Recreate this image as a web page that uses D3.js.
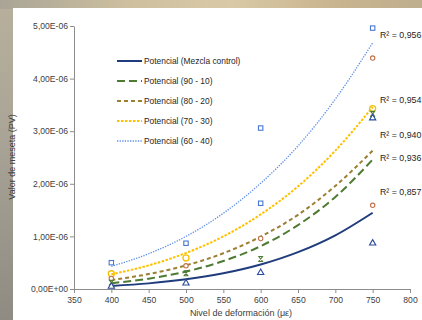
<!DOCTYPE html>
<html><head><meta charset="utf-8">
<script src="https://cdn.jsdelivr.net/npm/d3@7"></script>
<style>html,body{margin:0;padding:0;overflow:hidden;background:#fff}svg{display:block}</style>
</head><body>
<svg id="c" width="422" height="320"></svg>
<script>
// ---- data (values in units of 1E-06) ----
const xTicks = [350,400,450,500,550,600,650,700,750,800];
const yTicks = [0,1,2,3,4,5];
const seriesNames = ["Potencial (Mezcla control)","Potencial (90 - 10)","Potencial (80 - 20)","Potencial (70 - 30)","Potencial (60 - 40)"];
const trendX = [400,450,500,550,600,650,700,750];
const trendControl = [0.058,0.107,0.184,0.298,0.465,0.70,1.02,1.45];
const trend9010   = [0.110,0.197,0.331,0.532,0.815,1.215,1.75,2.46];
const trend8020   = [0.170,0.284,0.449,0.68,0.996,1.41,1.96,2.63];
const trend7030   = [0.280,0.449,0.684,1.00,1.418,1.95,2.63,3.46];
const trend6040   = [0.43,0.67,1.00,1.44,2.01,2.72,3.61,4.68];
const r2Labels = ["R² = 0,956","R² = 0,954","R² = 0,940","R² = 0,936","R² = 0,857"];
const r2Values = [4.83,3.6,2.93,2.50,1.84];
// data markers
const triX = [400,500,600,750,750];   const triY = [0.05,0.11,0.31,0.87,3.25];
const grnX = [400,500,600,750];       const grnY = [0.12,0.30,0.57,3.33];
const brnX = [400,500,600,750,750];   const brnY = [0.20,0.44,0.96,1.59,4.39];
const yelX = [400,500,750];           const yelY = [0.29,0.59,3.43];
const sqX  = [400,500,600,600,750];   const sqY  = [0.50,0.87,1.63,3.06,4.96];

const svg = d3.select("#c");
// background
const defs = svg.append("defs");
const gTop = defs.append("linearGradient").attr("id","gt");
[["0%","#a9a496"],["30%","#cdbf9f"],["55%","#d9c9a6"],["80%","#c8b48e"],["100%","#bfae8e"]].forEach(s=>gTop.append("stop").attr("offset",s[0]).attr("stop-color",s[1]));
const gLeft = defs.append("linearGradient").attr("id","gl").attr("x1",0).attr("y1",0).attr("x2",0).attr("y2",1);
[["0%","#b8b09c"],["40%","#aaa597"],["100%","#8f8b82"]].forEach(s=>gLeft.append("stop").attr("offset",s[0]).attr("stop-color",s[1]));
svg.append("rect").attr("width",422).attr("height",320).attr("fill","url(#gl)");
svg.append("rect").attr("width",422).attr("height",9).attr("fill","url(#gt)");
svg.append("rect").attr("x",13).attr("y",8).attr("width",409).attr("height",312).attr("fill","#fff");

const x = d3.scaleLinear().domain([350,800]).range([74,410]);
const y = d3.scaleLinear().domain([0,5]).range([289,26]);
const fmt = v => v===0 ? "0,00E+00" : v.toFixed(2).replace(".",",")+"E-06";

const font = "Liberation Sans, Arial, sans-serif";
const ya = svg.append("g").attr("transform","translate(74,0)")
  .call(d3.axisLeft(y).tickValues(yTicks).tickFormat(fmt).tickSize(4).tickSizeOuter(0));
const xa = svg.append("g").attr("transform","translate(0,289)")
  .call(d3.axisBottom(x).tickValues(xTicks).tickFormat(d3.format("d")).tickSize(4).tickSizeOuter(0));
[ya,xa].forEach(a=>{
  a.select(".domain").attr("stroke","#8c8c8c");
  a.selectAll(".tick line").attr("stroke","#8c8c8c");
  a.selectAll(".tick text").attr("fill","#404040").style("font-family",font).style("font-size","8.6px");
});
ya.selectAll(".tick text").attr("x",-6);
xa.selectAll(".tick text").attr("y",8);

svg.append("text").attr("transform","translate(15,157) rotate(-90)").attr("text-anchor","middle")
  .style("font-family",font).style("font-size","9px").attr("fill","#404040").text("Valor de meseta (PV)");
svg.append("text").attr("x",241).attr("y",316).attr("text-anchor","middle")
  .style("font-family",font).style("font-size","9px").attr("fill","#404040").text("Nivel de deformación (με)");

const styles = [
  {c:"#1f3c7c", w:2, d:null},
  {c:"#4e7a32", w:2, d:"8,4"},
  {c:"#9c7f33", w:2, d:"4,3"},
  {c:"#ffc000", w:2, d:"2.5,1.5"},
  {c:"#5d8ee6", w:1.3, d:"1.3,1.3"}
];
const trends = [trendControl,trend9010,trend8020,trend7030,trend6040];
const line = d3.line().x((d,i)=>x(trendX[i])).y(d=>y(d)).curve(d3.curveMonotoneX);
[4,3,2,1,0].forEach(k=>{
  svg.append("path").datum(trends[k]).attr("d",line).attr("fill","none")
    .attr("stroke",styles[k].c).attr("stroke-width",styles[k].w)
    .attr("stroke-dasharray",styles[k].d);
});

// markers
const mk = (xs,ys)=>xs.map((v,i)=>[x(v),y(ys[i])]);
svg.selectAll(".sq").data(mk(sqX,sqY)).enter().append("rect")
  .attr("x",d=>d[0]-2.2).attr("y",d=>d[1]-2.2).attr("width",4.4).attr("height",4.4)
  .attr("fill","#fff").attr("stroke","#4a78d0").attr("stroke-width",1.1);
svg.selectAll(".yc").data(mk(yelX,yelY)).enter().append("circle")
  .attr("cx",d=>d[0]).attr("cy",d=>d[1]).attr("r",3)
  .attr("fill","none").attr("stroke","#f5c000").attr("stroke-width",1.3);
svg.selectAll(".bc").data(mk(brnX,brnY)).enter().append("circle")
  .attr("cx",d=>d[0]).attr("cy",d=>d[1]).attr("r",2.2)
  .attr("fill","#fff").attr("stroke","#c0734a").attr("stroke-width",1.1);
svg.selectAll(".gm").data(mk(grnX,grnY)).enter().append("path")
  .attr("d",d=>`M${d[0]-2.5},${d[1]-2.5}h5M${d[0]-2.5},${d[1]+2.5}h5M${d[0]-2},${d[1]-2.5}L${d[0]+2},${d[1]+2.5}M${d[0]+2},${d[1]-2.5}L${d[0]-2},${d[1]+2.5}`)
  .attr("fill","none").attr("stroke","#4e7a32").attr("stroke-width",1.1);
const tri = d3.symbol().type(d3.symbolTriangle).size(17);
svg.selectAll(".tr").data(mk(triX,triY)).enter().append("path")
  .attr("transform",d=>`translate(${d[0]},${d[1]})`).attr("d",tri)
  .attr("fill","#fff").attr("stroke","#2a4a9c").attr("stroke-width",1.1);

// R2 labels
r2Labels.forEach((t,i)=>{
  svg.append("text").attr("x",380).attr("y",y(r2Values[i])+3).style("font-family",font)
    .style("font-size","8.8px").attr("fill","#262626").text(t);
});

// legend
const lg = svg.append("g");
seriesNames.forEach((n,i)=>{
  const yy = 61 + i*20;
  lg.append("line").attr("x1",117).attr("x2",142).attr("y1",yy).attr("y2",yy)
    .attr("stroke",styles[i].c).attr("stroke-width",styles[i].w).attr("stroke-dasharray",styles[i].d);
  lg.append("text").attr("x",144).attr("y",yy+3).style("font-family",font).style("font-size","8.4px")
    .attr("fill","#262626").text(n);
});
</script>
</body></html>
